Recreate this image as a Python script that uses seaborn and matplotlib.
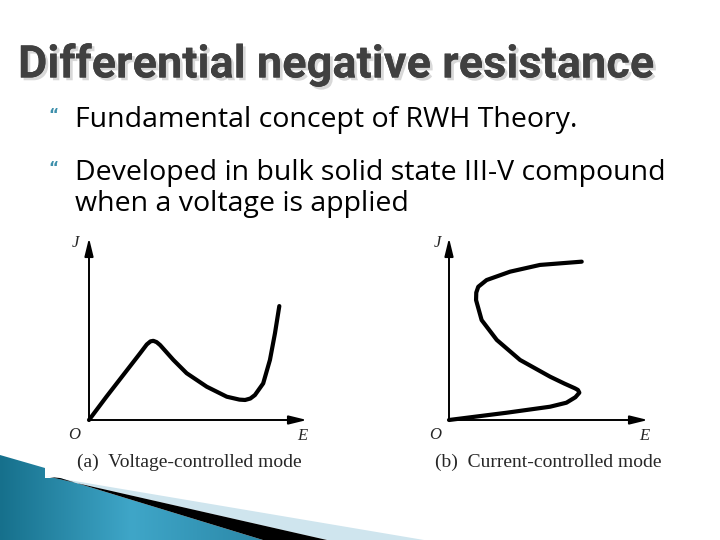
import numpy as np
import matplotlib
matplotlib.use("Agg")
import matplotlib.pyplot as plt
import matplotlib.patheffects as pe
from matplotlib.patches import Polygon
import seaborn as sns

# Textos de la diapositiva
titulo = "Differential negative resistance"
vinetas = ["Fundamental concept of RWH Theory.",
           "Developed in bulk solid state III-V compound\nwhen a voltage is applied"]
leyenda_a = "(a)  Voltage-controlled mode"
leyenda_b = "(b)  Current-controlled mode"

# Curva (a): modo controlado por voltaje (E, J en unidades relativas)
va_E = [0.0, 0.08, 0.157, 0.234, 0.265, 0.282, 0.295, 0.31, 0.326, 0.387, 0.448, 0.54, 0.632,
        0.69, 0.716, 0.74, 0.761, 0.799, 0.83, 0.853, 0.873]
va_J = [0.0, 0.128, 0.247, 0.366, 0.415, 0.432, 0.435, 0.428, 0.412, 0.33, 0.257, 0.183, 0.128,
        0.112, 0.11, 0.118, 0.137, 0.201, 0.33, 0.476, 0.626]

# Curva (b): modo controlado por corriente
cc_E = [0.0, 0.29, 0.508, 0.59, 0.635, 0.655, 0.648, 0.633, 0.58, 0.508, 0.357, 0.24, 0.164,
        0.136, 0.137, 0.147, 0.189, 0.307, 0.457, 0.667]
cc_J = [0.0, 0.04, 0.073, 0.095, 0.125, 0.15, 0.165, 0.174, 0.2, 0.238, 0.33, 0.44, 0.549,
        0.659, 0.70, 0.732, 0.769, 0.815, 0.852, 0.87]

sns.set_theme(style="white")
plt.rcParams['font.family'] = ['DejaVu Sans']

fig = plt.figure(figsize=(7.2, 5.4), dpi=100)
fig.patch.set_facecolor("white")

def fx(x):
    return x / 720

def fy(y):
    return 1 - y / 540

# Titulo con sombra
fig.text(fx(18), fy(65), titulo, fontsize=32.5, fontweight="bold", color="#404040",
         family=["Roboto", "DejaVu Sans"], va="center", ha="left",
         path_effects=[pe.withSimplePatchShadow(offset=(2, -2), shadow_rgbFace="#d8d8d8", alpha=1),
                       pe.Normal()])

# Vinetas
for yb, txt in zip([118, 171], vinetas):
    fig.text(fx(48), fy(yb - 3), "\u201c", fontsize=11, color="#3d8fab", fontweight="bold",
             va="center", ha="left")
    fig.text(fx(75), fy(yb - 12), txt, fontsize=20.5, color="black", family=["Open Sans", "DejaVu Sans"],
             va="top", ha="left", linespacing=1.13)

serif = ["Liberation Serif", "DejaVu Serif"]

def panel(pos, E, J, leyenda, cx):
    ax = fig.add_axes(pos)
    ax.set_xlim(0, 1)
    ax.set_ylim(0, 1)
    ax.axis("off")
    flecha = dict(arrowstyle="-|>,head_length=0.9,head_width=0.22", lw=1.4, color="black",
                  shrinkA=0, shrinkB=0)
    ax.annotate("", xy=(1, 0), xytext=(0, 0), arrowprops=flecha, annotation_clip=False)
    ax.annotate("", xy=(0, 1), xytext=(0, 0), arrowprops=flecha, annotation_clip=False)
    sns.lineplot(x=E, y=J, sort=False, estimator=None, ax=ax, color="black", lw=3,
                 solid_joinstyle="round", solid_capstyle="round", clip_on=False)
    ax.text(-0.07, -0.085, "O", transform=ax.transAxes, family=serif, style="italic",
            fontsize=12, ha="center", va="center")
    ax.text(0.98, -0.09, "E", transform=ax.transAxes, family=serif, style="italic",
            fontsize=12, ha="center", va="center")
    ax.text(-0.06, 0.97, "J", transform=ax.transAxes, family=serif, style="italic",
            fontsize=12, ha="center", va="center")
    fig.text(fx(cx), fy(462), leyenda, family=serif, fontsize=14, ha="center", va="center")
    return ax

panel([fx(89), fy(420), 218 / 720, 182 / 540], va_E, va_J, leyenda_a, 189)
panel([fx(449), fy(420), 199 / 720, 182 / 540], cc_E, cc_J, leyenda_b, 548)

# Decoracion inferior izquierda
deco = fig.add_axes([0, 0, 1, 1], zorder=-1)
deco.set_xlim(0, 720)
deco.set_ylim(540, 0)
deco.axis("off")
azul_claro = Polygon([(45, 476), (424, 540), (327, 540), (50, 477)], closed=True,
                     facecolor="#cfe5ee", edgecolor="none")
negro = Polygon([(50, 477), (60, 478), (263, 540), (327, 540)], closed=True,
                facecolor="black", edgecolor="none")
teal = Polygon([(0, 455), (45, 468), (45, 478), (60, 478), (263, 540), (0, 540)], closed=True,
               facecolor="none", edgecolor="none")
deco.add_patch(azul_claro)
deco.add_patch(negro)
deco.add_patch(teal)
grad = np.linspace(0, 1, 256).reshape(1, -1)
cmap = matplotlib.colors.LinearSegmentedColormap.from_list("t", ["#16708c", "#3fa6c8", "#2b88a8"])
img = deco.imshow(grad, extent=[0, 263, 540, 455], cmap=cmap, aspect="auto")
img.set_clip_path(teal)

fig.savefig("out.png", dpi=100, facecolor="white")
